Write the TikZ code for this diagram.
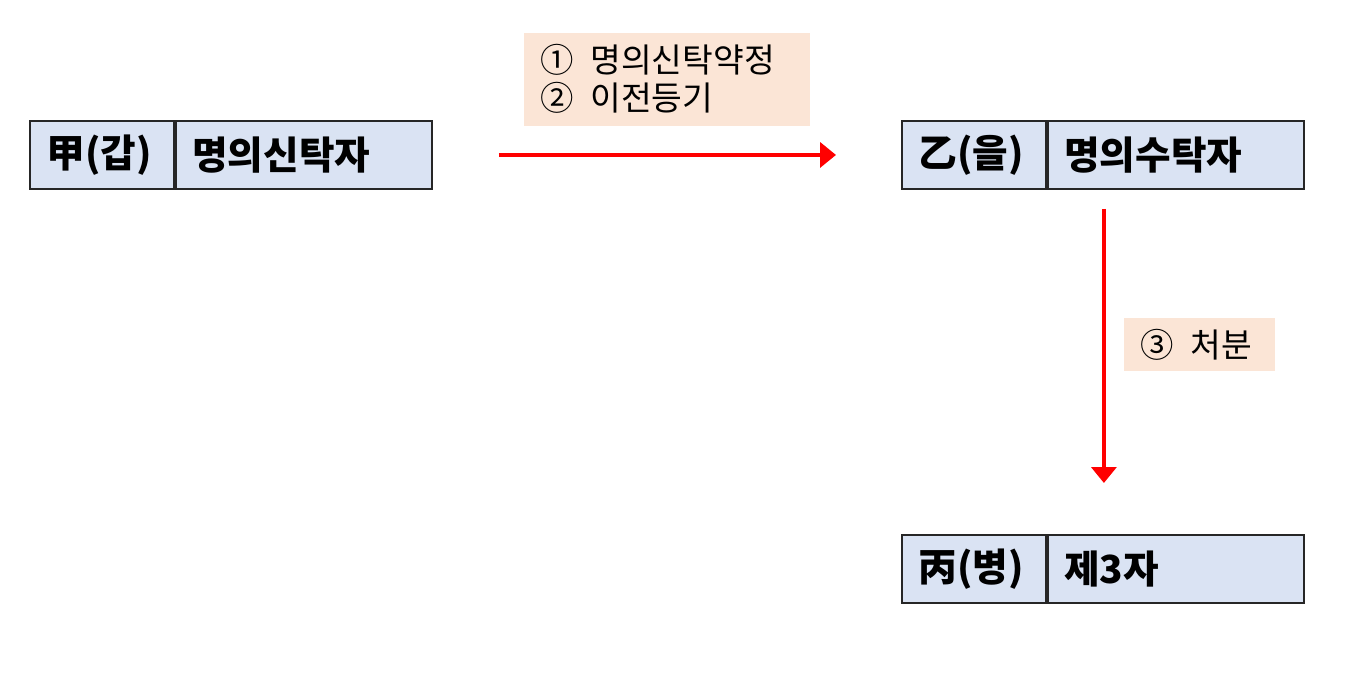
\documentclass[tikz,border=0pt]{standalone}
\usepackage{fontspec}
\setmainfont{Noto Sans CJK KR}
\usetikzlibrary{positioning,arrows.meta,calc}
\definecolor{CellBlue}{RGB}{218,227,243}
\definecolor{NotePeach}{RGB}{251,229,214}
\definecolor{FlowRed}{RGB}{255,0,0}

\begin{document}
\begin{tikzpicture}[x=0.02cm,y=-0.02cm,
    cell/.style={draw=black!85,line width=1.1pt,fill=CellBlue,minimum height=1.36cm,
        inner xsep=0.33cm,align=left,font=\bfseries\fontsize{22}{26}\selectfont},
    who/.style={cell,text width=2.22cm},
    role/.style={cell,text width=4.46cm},
    flow/.style={FlowRed,line width=2.6pt,-{Triangle[length=9pt,width=14pt]}},
    note/.style={fill=NotePeach,text=black,inner xsep=0.33cm,align=left,font=\fontsize{19}{21.5}\selectfont}]
            \useasboundingbox (0,0) rectangle (1353,679);
            \node[who,anchor=north west] (gap) at (29,120) {甲(갑)};
            \node[role,right=0pt of gap] (gapRole) {명의신탁자};
            \node[who,anchor=north west] (eul) at (901,120) {乙(을)};
            \node[role,right=0pt of eul] (eulRole) {명의수탁자};
            \node[who,anchor=north west] (byeong) at (901,534) {丙(병)};
            \node[role,right=0pt of byeong] (byeongRole) {제3자};
            \draw[flow,shorten <=1.32cm,shorten >=1.3cm] (gapRole.east) -- (eul.west)
                node[note,midway,above=0.54cm,text width=5.06cm,minimum height=1.86cm] (deal)
                {①\hspace{0.5em}명의신탁약정\\②\hspace{0.5em}이전등기};
            \draw[flow,shorten <=0.38cm,shorten >=1.02cm] ($(eulRole.south west)+(57,0)$) -- ($(byeongRole.north west)+(57,0)$)
                node[note,pos=0.45,right=0.36cm,text width=2.36cm,minimum height=1.06cm] (sell)
                {③\hspace{0.5em}처분};
        \end{tikzpicture}
\end{document}
